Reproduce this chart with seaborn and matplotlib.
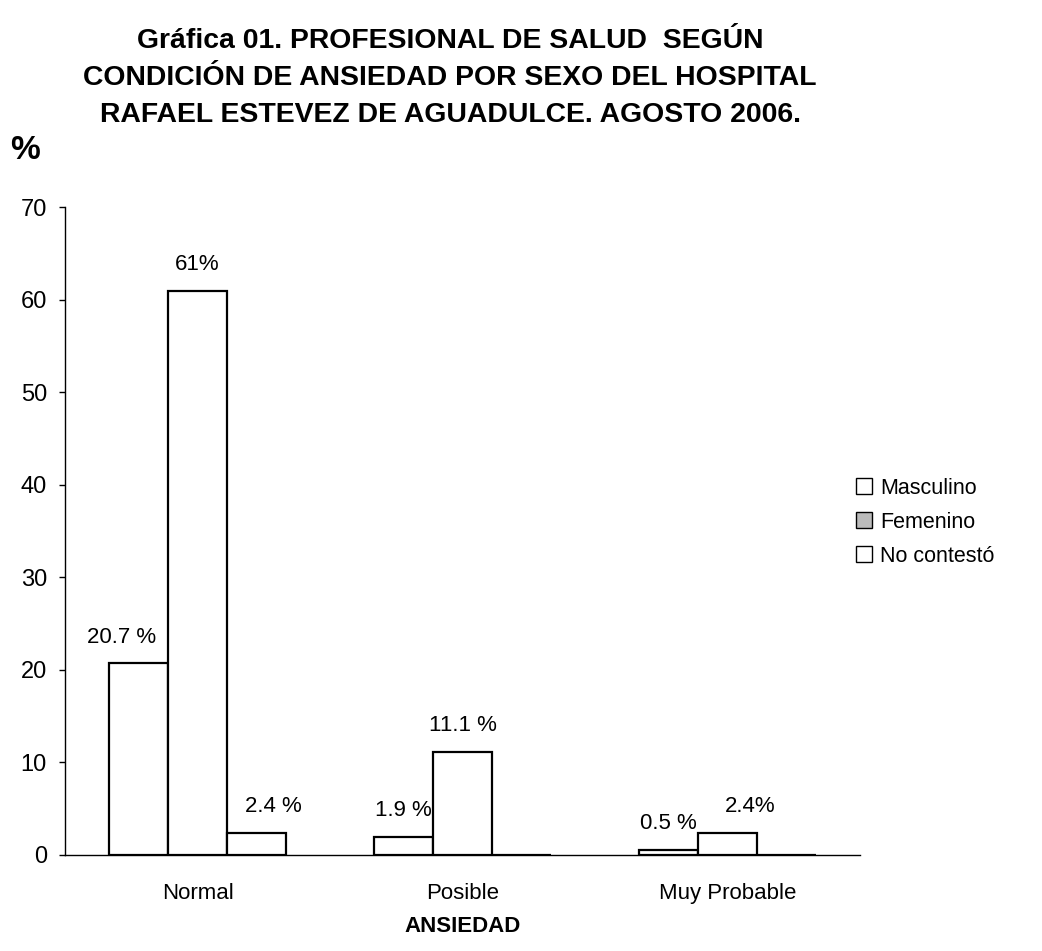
import matplotlib
matplotlib.use("Agg")
import matplotlib.pyplot as plt
import seaborn as sns
import pandas as pd
from matplotlib.patches import Patch

# Survey results: anxiety condition of health professionals, by sex (%)
categorias = ["Normal", "Posible", "Muy Probable"]
sexos = ["Masculino", "Femenino", "No contestó"]
masculino = [20.7, 1.9, 0.5]
femenino = [61.0, 11.1, 2.4]
no_contesto = [2.4, 0.0, 0.0]
etiquetas = {
    ("Normal", "Masculino"): "20.7 %",
    ("Normal", "Femenino"): "61%",
    ("Normal", "No contestó"): "2.4 %",
    ("Posible", "Masculino"): "1.9 %",
    ("Posible", "Femenino"): "11.1 %",
    ("Muy Probable", "Masculino"): "0.5 %",
    ("Muy Probable", "Femenino"): "2.4%",
}
# horizontal nudge (points) of a few value labels
desplazamiento = {
    ("Normal", "Masculino"): -12,
    ("Normal", "No contestó"): 12,
    ("Muy Probable", "Femenino"): 16,
}
y_ticks = [0, 10, 20, 30, 40, 50, 60, 70]

rows = []
for serie, vals in zip(sexos, [masculino, femenino, no_contesto]):
    for cat, v in zip(categorias, vals):
        rows.append({"ANSIEDAD": cat, "Sexo": serie, "Porcentaje": v})
df = pd.DataFrame(rows)

sns.set_theme(style="white")
plt.rcParams["font.family"] = ["Liberation Sans", "DejaVu Sans"]
plt.rcParams["text.color"] = "black"
plt.rcParams["axes.labelcolor"] = "black"
plt.rcParams["xtick.color"] = "black"
plt.rcParams["ytick.color"] = "black"

fig = plt.figure(figsize=(10.42, 9.51), dpi=100)
ax = fig.add_axes([0.0624, 0.101, 0.763, 0.681])

sns.barplot(data=df, x="ANSIEDAD", y="Porcentaje", hue="Sexo",
            order=categorias, hue_order=sexos,
            palette=["white", "white", "white"], edgecolor="black",
            linewidth=1.6, width=0.67, ax=ax, legend=False)

ax.set_ylim(0, 70)
ax.set_yticks(y_ticks)
ax.set_yticklabels([str(t) for t in y_ticks], fontsize=17)
ax.tick_params(axis="y", which="major", direction="out", length=4, width=1,
               color="black", pad=9, left=True)
ax.tick_params(axis="x", labelsize=16, length=0, pad=20)
ax.set_xlabel("ANSIEDAD", fontsize=16, fontweight="bold", labelpad=9)
ax.set_ylabel("")
for side in ["top", "right"]:
    ax.spines[side].set_visible(False)
for side in ["left", "bottom"]:
    ax.spines[side].set_color("black")
    ax.spines[side].set_linewidth(1.0)

# Value labels above the bars
for container, serie in zip(ax.containers, sexos):
    for patch, cat in zip(container.patches, categorias):
        txt = etiquetas.get((cat, serie))
        if txt is None:
            continue
        x = patch.get_x() + patch.get_width() / 2
        h = patch.get_height()
        dx = desplazamiento.get((cat, serie), 0)
        ax.annotate(txt, (x, h), xytext=(dx, 19), textcoords="offset points",
                    ha="center", va="center", fontsize=16, color="black")

fig.text(0.432, 0.918, "Gráfica 01. PROFESIONAL DE SALUD  SEGÚN\n"
         "CONDICIÓN DE ANSIEDAD POR SEXO DEL HOSPITAL\n"
         "RAFAEL ESTEVEZ DE AGUADULCE. AGOSTO 2006.",
         ha="center", va="center", fontsize=20.4, fontweight="bold",
         linespacing=1.55)
fig.text(0.010, 0.842, "%", fontsize=24, fontweight="bold", ha="left",
         va="center")

handles = [Patch(facecolor="white", edgecolor="black"),
           Patch(facecolor="#bbbbbb", edgecolor="black"),
           Patch(facecolor="white", edgecolor="black")]
fig.legend(handles, sexos, loc="center left", bbox_to_anchor=(0.803, 0.451),
           frameon=False, fontsize=15.5, handlelength=0.75, handleheight=0.75,
           handletextpad=0.35, labelspacing=0.6)

fig.savefig("out.png", dpi=100, facecolor="white")
